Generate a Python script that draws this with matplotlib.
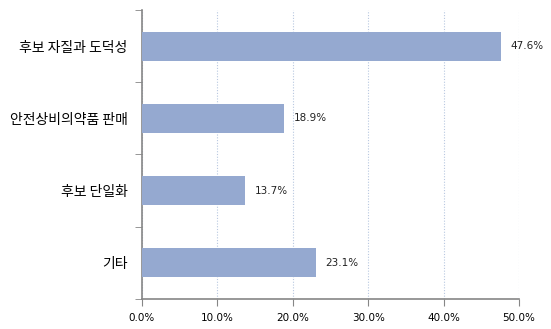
import numpy as np
import matplotlib.pyplot as plt
from matplotlib.ticker import FixedLocator, PercentFormatter

plt.rcParams['font.family'] = ['Noto Sans CJK KR', 'DejaVu Sans']

categories = ['후보 자질과 도덕성', '안전상비의약품 판매', '후보 단일화', '기타']
values = [47.6, 18.9, 13.7, 23.1]
xticks = [0, 10, 20, 30, 40, 50]

fig = plt.figure(figsize=(5.51, 3.29), dpi=100)
ax = fig.add_axes([0.2577, 0.0912, 0.9419 - 0.2577, 0.9696 - 0.0912])

y = np.arange(len(categories))
ax.barh(y, values, height=0.4, color='#95a9d0', zorder=3)

# value labels next to each bar
for yi, v in zip(y, values):
    ax.text(v + 1.2, yi, f'{v:.1f}%', va='center', ha='left', fontsize=7.5,
            family='DejaVu Sans', color='#222222')

ax.set_ylim(len(categories) - 0.5, -0.5)
ax.set_xlim(0, 50)
ax.set_yticks(y)
ax.set_yticklabels(categories, fontsize=10)
ax.yaxis.set_minor_locator(FixedLocator(np.arange(-0.5, len(categories), 1)))
ax.tick_params(axis='y', which='major', length=0, pad=10.5)
ax.tick_params(axis='y', which='minor', length=5, color='#868686')
ax.set_xticks(xticks)
ax.xaxis.set_major_formatter(PercentFormatter(decimals=1))
ax.tick_params(axis='x', length=5, color='#868686', labelsize=7.5, pad=5)
for lbl in ax.get_xticklabels():
    lbl.set_family('DejaVu Sans')

ax.grid(axis='x', color='#b8c8e0', linestyle=(0, (1, 1.5)), linewidth=0.8, zorder=0)
for s in ['top', 'right']:
    ax.spines[s].set_visible(False)
for s in ['left', 'bottom']:
    ax.spines[s].set_color('#868686')
    ax.spines[s].set_linewidth(1.2)

fig.savefig('out.png', dpi=100)
